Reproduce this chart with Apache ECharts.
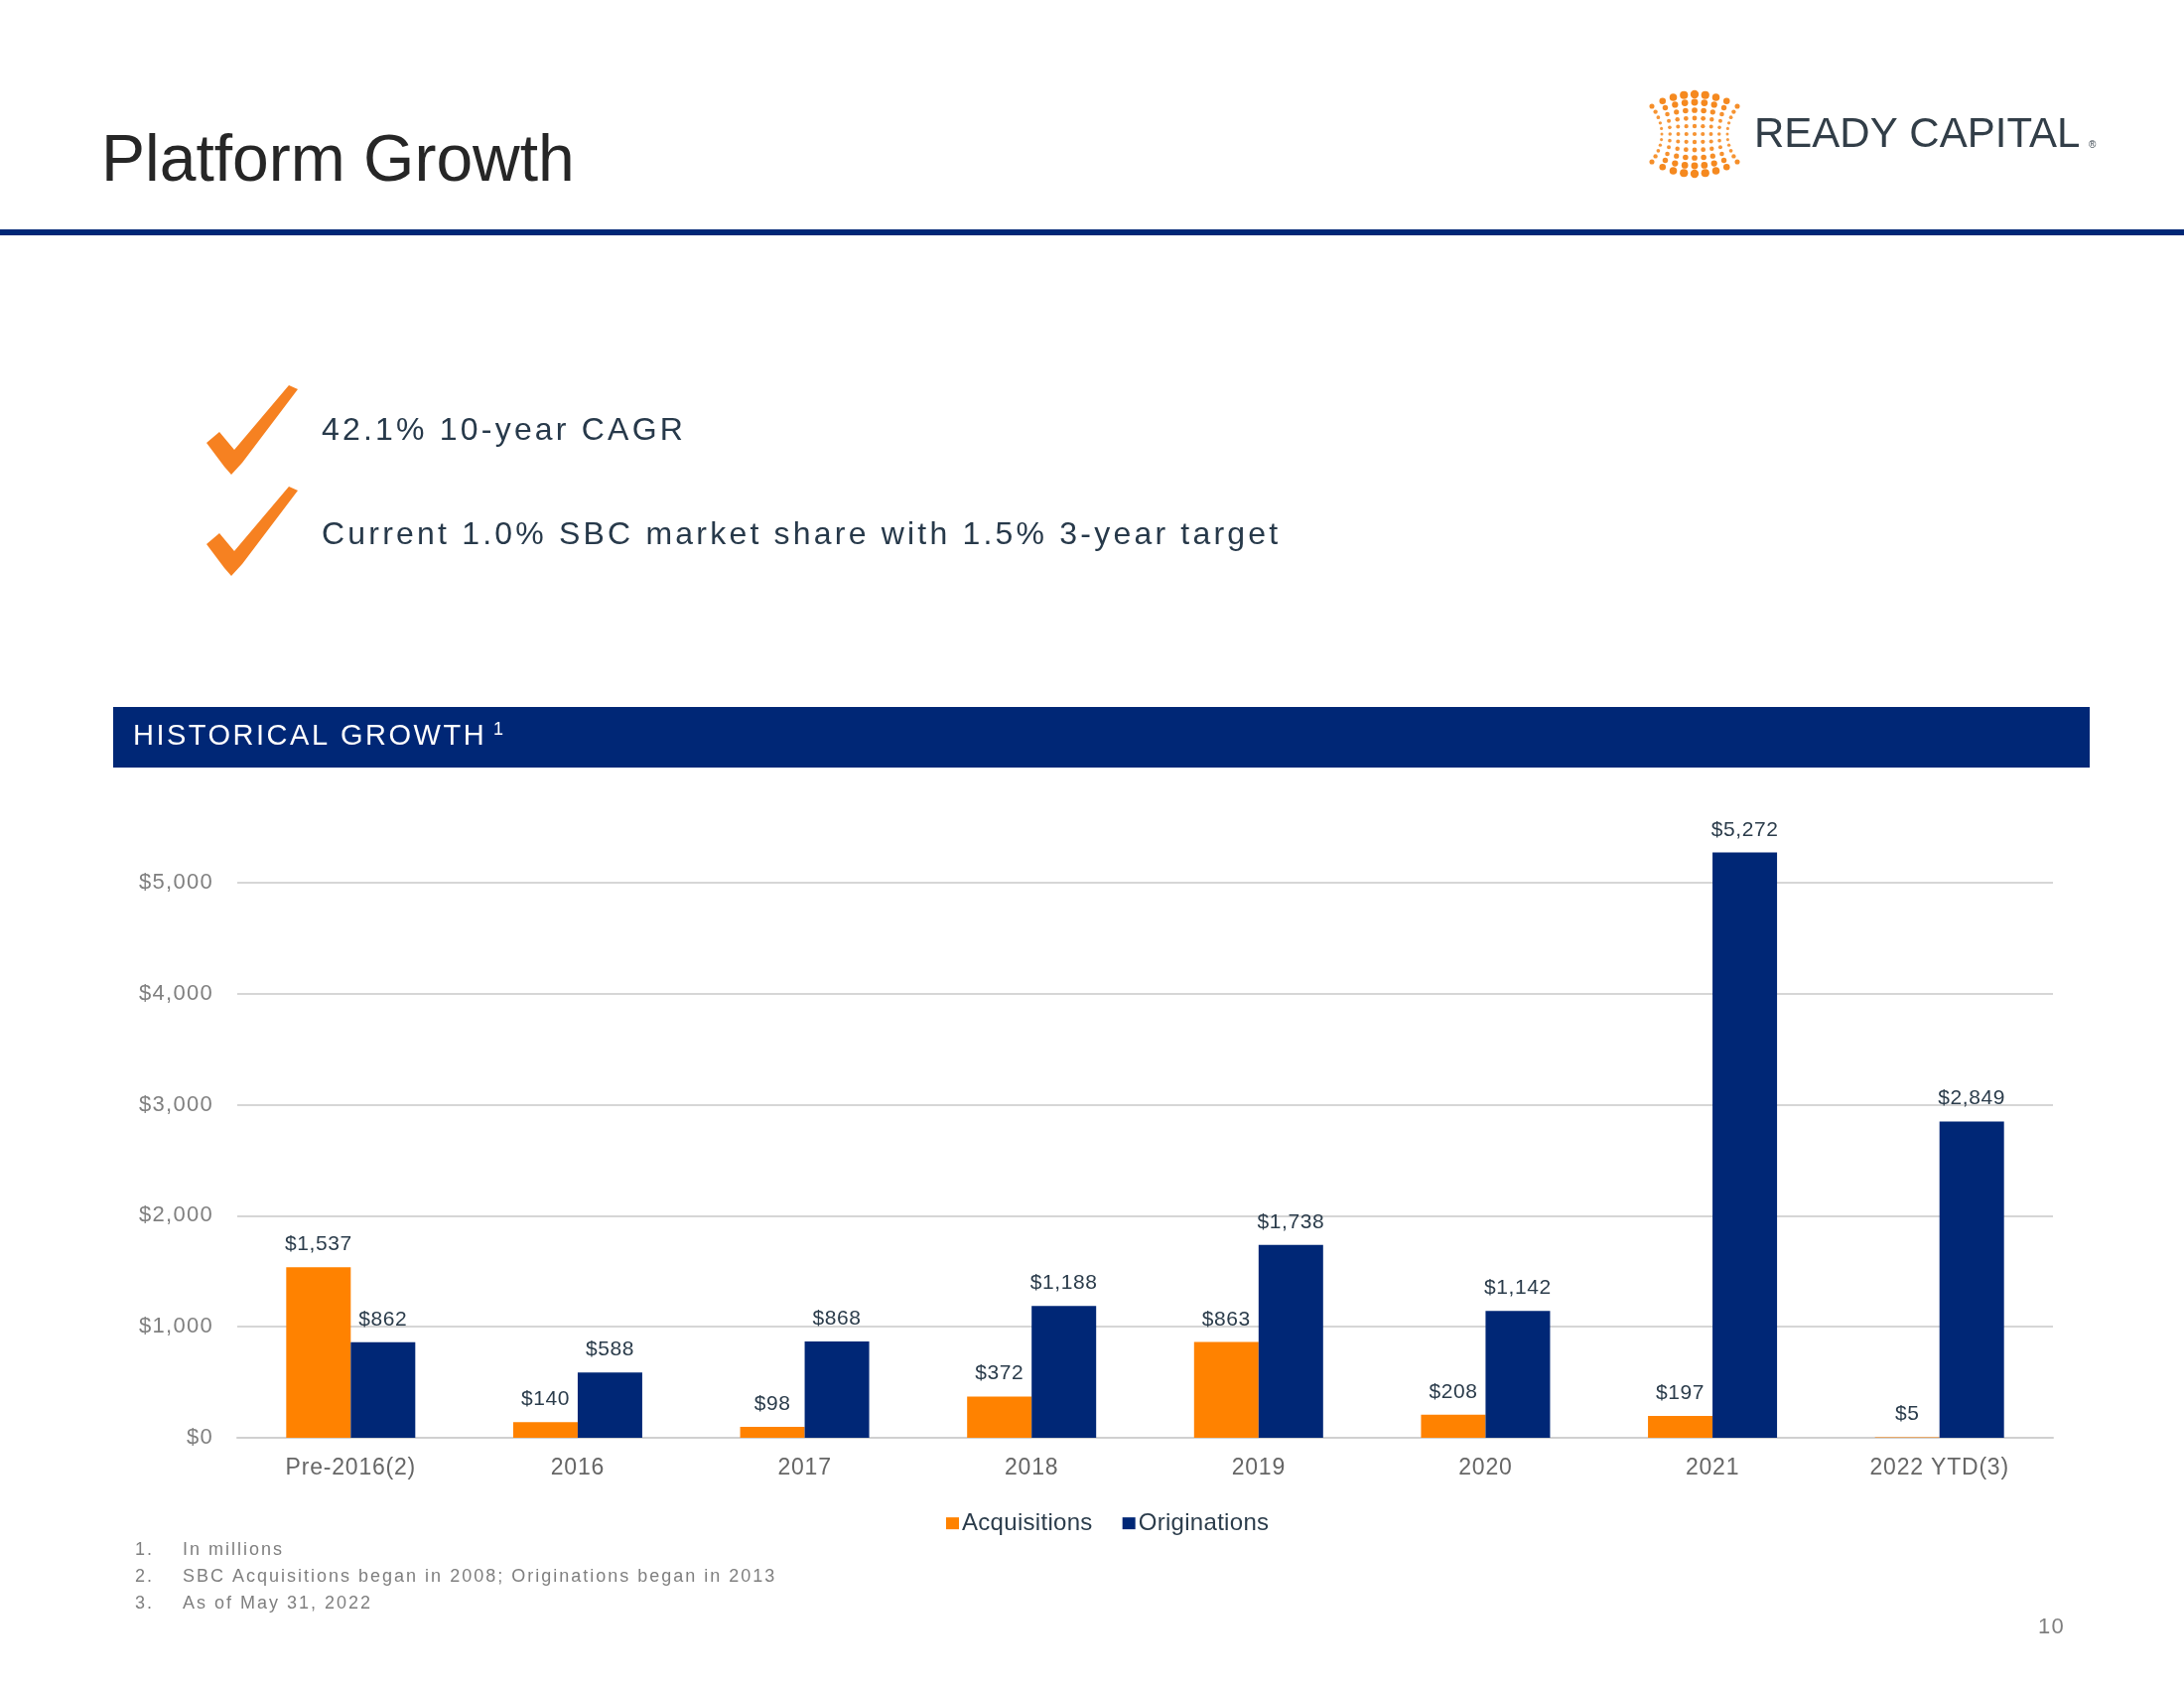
<!DOCTYPE html>
<html>
<head>
<meta charset="utf-8">
<script src="https://cdn.jsdelivr.net/npm/echarts@6/dist/echarts.min.js"></script>
<style>
  html, body { margin: 0; padding: 0; background: #ffffff; }
  #chart { width: 2200px; height: 1700px; }
</style>
</head>
<body>
<div id="chart"></div>
<script>
// ---- data ----
const categories = ['Pre-2016(2)', '2016', '2017', '2018', '2019', '2020', '2021', '2022 YTD(3)'];
const acquisitions = [1537, 140, 98, 372, 863, 208, 197, 5];
const originations = [862, 588, 868, 1188, 1738, 1142, 5272, 2849];
const seriesNames = ['Acquisitions', 'Originations'];
const bullets = ['42.1% 10-year CAGR', 'Current 1.0% SBC market share with 1.5% 3-year target'];
const footnotes = ['In millions', 'SBC Acquisitions began in 2008; Originations began in 2013', 'As of May 31, 2022'];

const ORANGE = '#ff8200';
const NAVY = '#002776';
const FONT = '"Liberation Sans", Arial, Helvetica, sans-serif';

// letter spacing per font size (the slide uses tracked-out type)
const SPACING = { 32: 3.2, 29: 2.5, 18: 2.0, 22: 1.3, 21: 0.6, 23: 0.8, 24: 0.3 };
(function () {
  const proto = CanvasRenderingContext2D.prototype;
  const origFill = proto.fillText, origStroke = proto.strokeText, origMeasure = proto.measureText;
  function applySpacing(ctx) {
    if (!('letterSpacing' in ctx)) return;
    const m = /(\d+(?:\.\d+)?)px/.exec(ctx.font);
    const s = m ? (SPACING[Math.round(parseFloat(m[1]))] || 0) : 0;
    ctx.letterSpacing = s + 'px';
  }
  proto.fillText = function () { applySpacing(this); return origFill.apply(this, arguments); };
  proto.strokeText = function () { applySpacing(this); return origStroke.apply(this, arguments); };
  proto.measureText = function () { applySpacing(this); return origMeasure.apply(this, arguments); };
})();

function money(v) {
  return '$' + v.toLocaleString('en-US');
}

// ---- decorative elements ----
const graphics = [];

// title
graphics.push({
  type: 'text', x: 102, y: 164,
  style: { text: 'Platform Growth', font: '66px ' + FONT, fill: '#262626', verticalAlign: 'middle', align: 'left' }
});
// header rule
graphics.push({ type: 'rect', shape: { x: 0, y: 231, width: 2200, height: 6 }, style: { fill: NAVY } });

// logo dots
(function () {
  const cx = 1707, cy = 135;
  for (let i = -4; i <= 4; i++) {
    for (let j = -5; j <= 5; j++) {
      const u = i / 4, v = j / 5;
      const x = cx + u * (33 + 10 * v * v);
      const y = cy + v * (40 - 12 * u * u);
      const r = 1.5 + 2.1 * v * v * (1 - 0.5 * u * u) + 0.6 * (1 - u * u);
      graphics.push({
        type: 'circle', shape: { cx: x, cy: y, r: r },
        style: { fill: '#f5891f', opacity: 0.7 + 0.3 * Math.min(1, r / 3) }
      });
    }
  }
})();
graphics.push({
  type: 'text', x: 1767, y: 136,
  style: { text: 'READY CAPITAL', font: '42px ' + FONT, fill: '#323e48', verticalAlign: 'middle', align: 'left' }
});
graphics.push({
  type: 'text', x: 2104, y: 146,
  style: { text: '®', font: '10px ' + FONT, fill: '#323e48', verticalAlign: 'middle', align: 'left' }
});

// check marks and bullet text
function checkPoints(dy) {
  const pts = [[208, 446], [221, 435], [236, 453], [291, 388], [300, 392], [244, 466], [233, 478], [226, 470]];
  return pts.map(p => [p[0], p[1] + dy]);
}
[0, 102].forEach((dy, k) => {
  graphics.push({ type: 'polygon', shape: { points: checkPoints(dy) }, style: { fill: '#f68121' } });
  graphics.push({
    type: 'text', x: 324, y: 434 + dy * 1.03,
    style: { text: bullets[k], font: '32px ' + FONT, fill: '#27394a', verticalAlign: 'middle', align: 'left' }
  });
});

// section banner
graphics.push({ type: 'rect', shape: { x: 114, y: 712, width: 1991, height: 61 }, style: { fill: NAVY } });
graphics.push({
  type: 'text', x: 134, y: 742,
  style: { text: 'HISTORICAL GROWTH', font: '29px ' + FONT, fill: '#ffffff', verticalAlign: 'middle', align: 'left' }
});
graphics.push({
  type: 'text', x: 497, y: 735,
  style: { text: '1', font: '18px ' + FONT, fill: '#ffffff', verticalAlign: 'middle', align: 'left' }
});

// footnotes
footnotes.forEach((t, k) => {
  const y = 1561 + k * 27;
  graphics.push({ type: 'text', x: 136, y: y, style: { text: (k + 1) + '.', font: '18px ' + FONT, fill: '#7f7f7f', verticalAlign: 'middle', align: 'left' } });
  graphics.push({ type: 'text', x: 184, y: y, style: { text: t, font: '18px ' + FONT, fill: '#7f7f7f', verticalAlign: 'middle', align: 'left' } });
});
// page number
graphics.push({ type: 'text', x: 2053, y: 1639, style: { text: '10', font: '22px ' + FONT, fill: '#7f7f7f', verticalAlign: 'middle', align: 'left' } });

// ---- chart ----
const chart = echarts.init(document.getElementById('chart'), null, { renderer: 'canvas' });

const labelStyle = {
  show: true, position: 'top', distance: 12,
  color: '#2b3c4b', fontSize: 21, fontFamily: FONT,
  formatter: p => money(p.value)
};

chart.setOption({
  animation: false,
  backgroundColor: '#ffffff',
  textStyle: { fontFamily: FONT },
  graphic: graphics,
  grid: { left: 239, right: 132, top: 889, bottom: 252, containLabel: false },
  legend: {
    data: seriesNames,
    left: 948, top: 1517,
    icon: 'rect', itemWidth: 13, itemHeight: 12, itemGap: 30,
    textStyle: { fontSize: 24, color: '#2b3c4b', fontFamily: FONT, padding: [0, 0, 0, -2] }
  },
  xAxis: {
    type: 'category',
    data: categories,
    axisLine: { show: true, lineStyle: { color: '#d0d0d0', width: 2 } },
    axisTick: { show: false },
    axisLabel: { margin: 19, fontSize: 23, color: '#666666', fontFamily: FONT }
  },
  yAxis: {
    type: 'value',
    min: 0, max: 5000, interval: 1000,
    axisLine: { show: false },
    axisTick: { show: false },
    splitLine: { lineStyle: { color: '#c9c9c9', width: 1.5 } },
    axisLabel: { margin: 24, fontSize: 22, color: '#808080', fontFamily: FONT, formatter: v => money(v) }
  },
  series: [
    {
      name: seriesNames[0], type: 'bar', data: acquisitions,
      barWidth: 65, barGap: '0%', clip: false,
      itemStyle: { color: ORANGE },
      label: labelStyle
    },
    {
      name: seriesNames[1], type: 'bar', data: originations,
      barWidth: 65, barGap: '0%', clip: false,
      itemStyle: { color: NAVY },
      label: labelStyle
    }
  ]
});
</script>
</body>
</html>
